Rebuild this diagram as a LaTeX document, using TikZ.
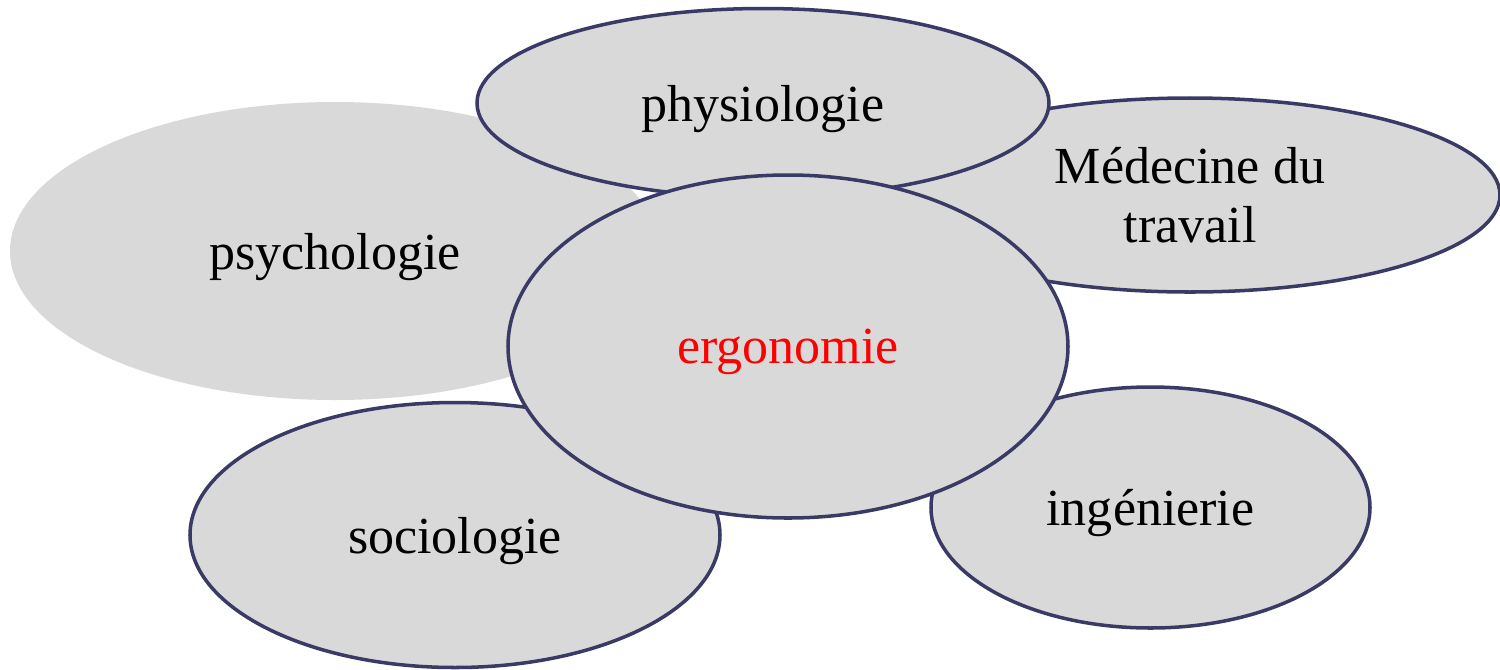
\documentclass[tikz,border=0pt]{standalone}
\usepackage{fontspec}
\setmainfont{Liberation Serif}
\usepackage{xcolor}
\usepackage{tikz}
\usetikzlibrary{shapes.geometric}
\definecolor{discfill}{HTML}{D9D9D9}
\definecolor{discline}{HTML}{3A3A66}
\tikzset{
  disc/.style      = {ellipse, fill=discfill, draw=discline, line width=1pt,
                      inner sep=0pt, align=center, text depth=0pt,
                      font=\fontsize{14.8}{17}\selectfont},
  discplain/.style = {disc, draw=none},
  disccore/.style  = {disc, text=red},
}

\begin{document}
\begin{tikzpicture}
  \useasboundingbox (0,0) rectangle (15,-6.69);
  \node[discplain, minimum width=6.5cm,  minimum height=2.98cm] (psy)  at (3.35,-2.51) {psychologie};
  \node[disc,      minimum width=6.2cm,  minimum height=1.94cm] (med)  at (11.90,-1.95) {Médecine du\\travail};
  \node[disc,      minimum width=5.72cm, minimum height=1.89cm] (phys) at (7.63,-1.03) {physiologie};
  \node[disc,      minimum width=5.30cm, minimum height=2.65cm] (soc)  at (4.55,-5.35) {sociologie};
  \node[disc,      minimum width=4.39cm, minimum height=2.41cm] (ing)  at (11.505,-5.075) {ingénierie};
  \node[disccore,  minimum width=5.60cm, minimum height=3.43cm] (ergo) at (7.88,-3.465) {ergonomie};
\end{tikzpicture}
\end{document}
